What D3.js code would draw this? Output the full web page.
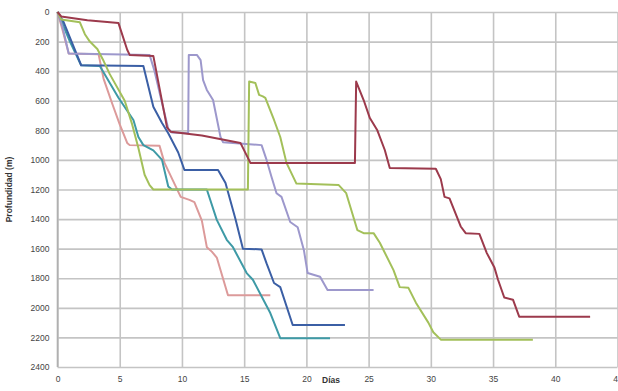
<!DOCTYPE html>
<html>
<head>
<meta charset="utf-8">
<script src="https://cdn.jsdelivr.net/npm/d3@7"></script>
<style>
  html, body { margin: 0; padding: 0; background: #fff; }
  svg { display: block; }
  .tick text { font-family: "Liberation Sans", Arial, sans-serif; font-size: 8.5px; fill: #444; }
</style>
</head>
<body>
<svg id="chart" width="618" height="391"></svg>
<script>
// Tick labels
const dayTicks = [0, 5, 10, 15, 20, 25, 30, 35, 40, 45];
const depthTicks = [0, 200, 400, 600, 800, 1000, 1200, 1400, 1600, 1800, 2000, 2200, 2400];

// Well progress curves: [day, depth in m]
const wellMaroon = [[0,0],[0.3,30],[2.4,55],[4.9,75],[5.6,255],[5.8,290],[7.7,297],[8.8,780],[9.1,810],[11.6,835],[14.7,885],[15.5,1020],[23.9,1020],[24.0,470],[24.6,595],[25.1,717],[25.7,800],[26.3,933],[26.7,1055],[30.4,1060],[30.8,1130],[31.1,1250],[31.5,1260],[32.4,1450],[32.8,1495],[33.9,1500],[34.5,1630],[35.1,1725],[35.4,1810],[35.9,1930],[36.6,1945],[37.1,2060],[42.8,2060]];
const wellGreen = [[0,0],[0.3,50],[1.8,70],[2.2,150],[2.6,200],[3.2,250],[3.7,330],[4.2,420],[5.4,600],[6.0,760],[6.5,920],[7.0,1100],[7.4,1170],[7.7,1200],[15.3,1200],[15.4,470],[15.9,480],[16.2,560],[16.5,570],[16.7,580],[17.4,730],[17.9,845],[18.4,1020],[19.2,1160],[22.6,1170],[23.2,1225],[24.1,1475],[24.6,1495],[25.4,1495],[25.9,1560],[27.0,1745],[27.5,1860],[28.2,1865],[28.8,1965],[29.8,2100],[30.2,2165],[30.8,2215],[38.2,2215]];
const wellLavender = [[0,0],[0.4,100],[0.9,280],[7.4,290],[7.8,400],[8.5,650],[8.9,790],[9.2,815],[10.5,820],[10.55,290],[11.2,290],[11.5,325],[11.7,460],[12.0,527],[12.5,595],[13.1,845],[13.3,880],[16.4,900],[16.8,1000],[17.2,1115],[17.6,1225],[18.0,1250],[18.7,1420],[19.3,1455],[19.8,1610],[20.1,1765],[21.1,1790],[21.7,1880],[25.4,1880]];
const wellBlue = [[0,0],[0.5,70],[1.9,360],[6.9,365],[7.7,640],[8.4,750],[8.9,820],[9.7,950],[10.2,1068],[12.9,1068],[13.5,1156],[14.3,1400],[14.9,1600],[16.4,1605],[16.8,1700],[17.4,1832],[17.9,1860],[18.9,2116],[23.1,2116]];
const wellTeal = [[0,0],[1.0,200],[1.9,360],[3.4,365],[4.9,580],[6.1,730],[6.5,845],[6.9,900],[7.7,935],[8.4,1000],[8.9,1180],[9.2,1200],[12.0,1200],[12.8,1405],[13.6,1540],[14.1,1590],[15.2,1765],[15.7,1810],[17.1,2035],[17.9,2205],[21.9,2205]];
const wellPink = [[0,0],[0.4,120],[0.9,280],[3.3,285],[3.7,450],[4.4,620],[5.0,760],[5.6,885],[5.8,900],[8.2,905],[8.6,1020],[9.9,1250],[10.6,1270],[11.0,1285],[11.6,1410],[12.0,1590],[12.4,1620],[12.8,1660],[13.7,1915],[17.1,1915]];

const series = [
  { data: wellPink,     color: "#dc9a9a" },
  { data: wellTeal,     color: "#3e9aa6" },
  { data: wellBlue,     color: "#3b5fa5" },
  { data: wellLavender, color: "#9d98cc" },
  { data: wellGreen,    color: "#a3c05a" },
  { data: wellMaroon,   color: "#9c3a4c" }
];

const svg = d3.select("#chart");
const x = d3.scaleLinear().domain([0, 45]).range([57.5, 617.5]);
const y = d3.scaleLinear().domain([0, 2400]).range([12, 367]);

// Horizontal gridlines + depth labels
const yAxis = svg.append("g")
  .attr("transform", `translate(${x(0)},0)`)
  .call(d3.axisLeft(y).tickValues(depthTicks).tickSize(-(x(45) - x(0))).tickPadding(8).tickFormat(d3.format("d")));
yAxis.select(".domain").remove();
yAxis.selectAll(".tick line").attr("stroke", "#c4c4c4").attr("stroke-width", 1.6);

// Vertical gridlines + day labels
const xAxis = svg.append("g")
  .attr("transform", `translate(0,${y(2400)})`)
  .call(d3.axisBottom(x).tickValues(dayTicks).tickSize(-(y(2400) - y(0))).tickPadding(9).tickFormat(d3.format("d")));
xAxis.select(".domain").remove();
xAxis.selectAll(".tick line").attr("stroke", "#c4c4c4").attr("stroke-width", 1.6);

// Left axis line
svg.append("line")
  .attr("x1", x(0)).attr("x2", x(0)).attr("y1", y(0)).attr("y2", y(2400))
  .attr("stroke", "#b0b0b0").attr("stroke-width", 1.6);

// Curves
const line = d3.line().x(d => x(d[0])).y(d => y(d[1]));
svg.append("g").selectAll("path")
  .data(series)
  .join("path")
  .attr("d", s => line(s.data))
  .attr("fill", "none")
  .attr("stroke", s => s.color)
  .attr("stroke-width", 2)
  .attr("stroke-linejoin", "round");

// Axis titles
svg.append("text")
  .attr("x", 331).attr("y", 383)
  .attr("text-anchor", "middle")
  .style("font-family", "'Liberation Sans', Arial, sans-serif")
  .style("font-size", "8.5px").style("font-weight", "bold").style("fill", "#333")
  .text("Días");

svg.append("text")
  .attr("transform", `translate(12,${y(1200)}) rotate(-90)`)
  .attr("text-anchor", "middle")
  .style("font-family", "'Liberation Sans', Arial, sans-serif")
  .style("font-size", "8.5px").style("font-weight", "bold").style("fill", "#333")
  .text("Profundidad (m)");
</script>
</body>
</html>
